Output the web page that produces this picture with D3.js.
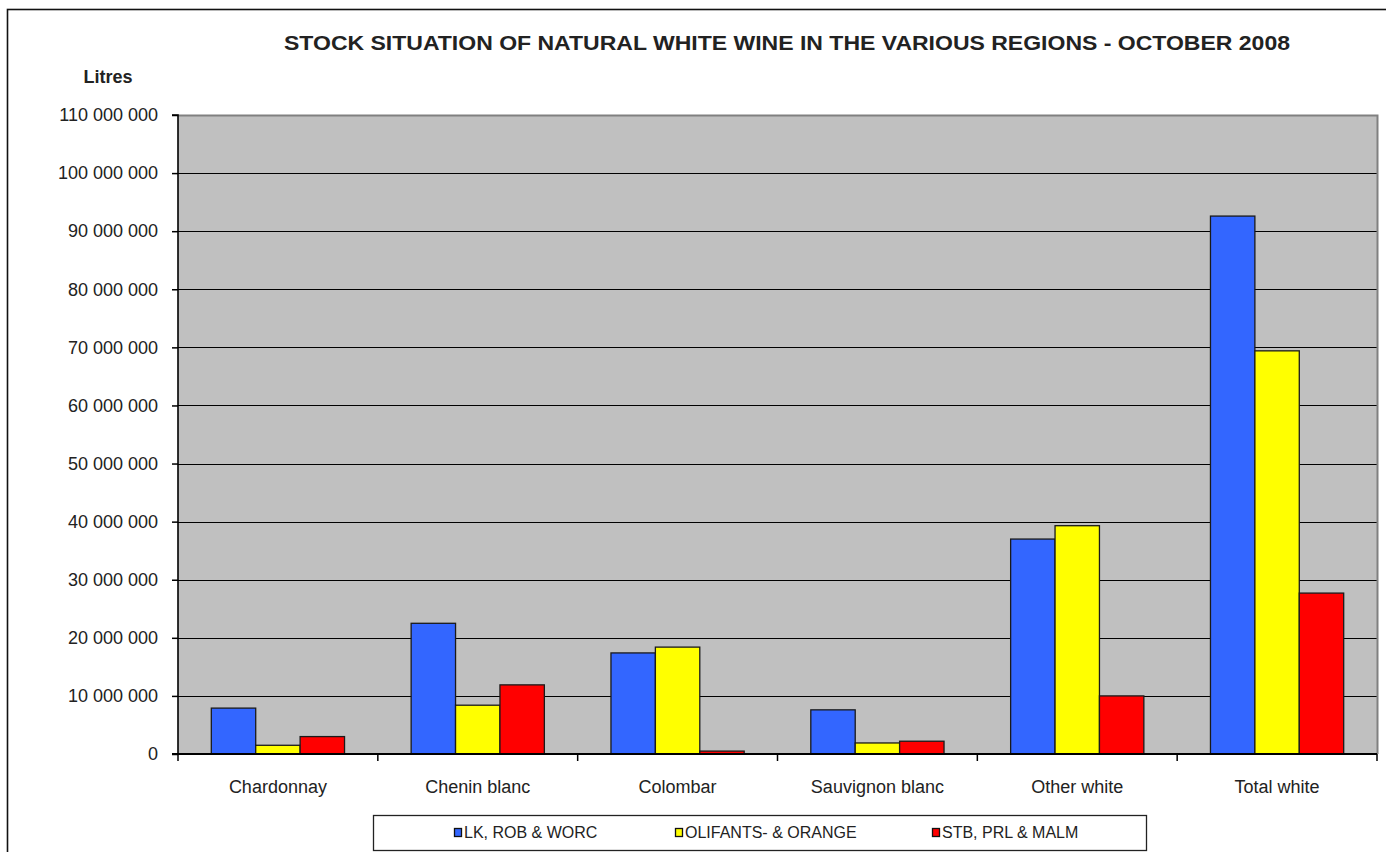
<!DOCTYPE html>
<html>
<head>
<meta charset="utf-8">
<script src="https://cdn.jsdelivr.net/npm/d3@7"></script>
<style>
  html, body { margin: 0; padding: 0; background: #fff; overflow: hidden; }
  text { font-family: Arial, "Liberation Sans", sans-serif; fill: #222; }
</style>
</head>
<body>
<svg id="chart" width="1386" height="852"></svg>
<script>
const categories = ["Chardonnay", "Chenin blanc", "Colombar", "Sauvignon blanc", "Other white", "Total white"];
const seriesNames = ["LK, ROB & WORC", "OLIFANTS- & ORANGE", "STB, PRL & MALM"];
const seriesColors = ["#3366FF", "#FFFF00", "#FF0000"];
const lkRobWorc   = [7900000, 22500000, 17400000, 7600000, 37000000, 92600000];
const olifants    = [1500000, 8400000, 18400000, 1900000, 39300000, 69400000];
const stbPrlMalm  = [3000000, 11900000, 500000, 2200000, 10000000, 27700000];
const yTicks = [0, 10000000, 20000000, 30000000, 40000000, 50000000, 60000000, 70000000, 80000000, 90000000, 100000000, 110000000];
const titleText = "STOCK SITUATION OF NATURAL WHITE WINE IN THE VARIOUS REGIONS - OCTOBER 2008";
const yAxisTitle = "Litres";

const seriesValues = [lkRobWorc, olifants, stbPrlMalm];
const svg = d3.select("#chart");

// outer chart border
svg.append("rect").attr("x", 7.5).attr("y", 9.5).attr("width", 1420).attr("height", 900)
  .attr("fill", "none").attr("stroke", "#111").attr("stroke-width", 1.6);

const plot = { left: 178, right: 1377, top: 115, bottom: 754 };

const y = d3.scaleLinear().domain([0, 110000000]).range([plot.bottom, plot.top]);
const x0 = d3.scaleBand().domain(categories).range([plot.left, plot.right]).paddingInner(0).paddingOuter(0);
const x1 = d3.scaleBand().domain(seriesNames).range([0, x0.bandwidth()]).paddingInner(0).paddingOuter(0.75);

// plot background
svg.append("rect").attr("x", plot.left).attr("y", plot.top)
  .attr("width", plot.right - plot.left).attr("height", plot.bottom - plot.top)
  .attr("fill", "#C0C0C0");

// gridlines
svg.append("g").selectAll("line").data(yTicks.filter(t => t > 0 && t < 110000000)).join("line")
  .attr("x1", plot.left).attr("x2", plot.right)
  .attr("y1", d => Math.round(y(d)) + 0.5).attr("y2", d => Math.round(y(d)) + 0.5)
  .attr("stroke", "#000").attr("stroke-width", 1.2);

// plot border top/right gray
svg.append("path")
  .attr("d", `M${plot.left},${plot.top + 0.5} H${plot.right + 0.5} V${plot.bottom}`)
  .attr("fill", "none").attr("stroke", "#808080").attr("stroke-width", 2);

// bars
const data = [];
categories.forEach((c, i) => seriesNames.forEach((s, j) => data.push({ c, s, j, v: seriesValues[j][i] })));
svg.append("g").selectAll("rect").data(data).join("rect")
  .attr("x", d => x0(d.c) + x1(d.s))
  .attr("y", d => y(d.v))
  .attr("width", x1.bandwidth())
  .attr("height", d => plot.bottom - y(d.v))
  .attr("fill", d => seriesColors[d.j])
  .attr("stroke", "#1a1a1a").attr("stroke-width", 1.3);

// y axis
const yAxis = d3.axisLeft(y).tickValues(yTicks).tickSize(6).tickPadding(14)
  .tickFormat(d => d3.format(",")(d).replace(/,/g, " "));
const yg = svg.append("g").attr("transform", `translate(${plot.left},0)`).call(yAxis);
yg.select(".domain").attr("stroke", "#000").attr("stroke-width", 1.6).attr("d", `M-6,${plot.top}H0V${plot.bottom}`);
yg.selectAll(".tick line").attr("stroke", "#000").attr("stroke-width", 1.5);
yg.selectAll(".tick text").attr("font-size", "18px").attr("font-family", "Arial, 'Liberation Sans', sans-serif").attr("fill", "#222");

// x axis
const xg = svg.append("g").attr("transform", `translate(0,${plot.bottom})`);
xg.append("line").attr("x1", plot.left - 6).attr("x2", plot.right).attr("y1", 0).attr("y2", 0)
  .attr("stroke", "#000").attr("stroke-width", 1.8);
const boundaries = categories.map(c => x0(c)).concat([plot.right]);
xg.selectAll("line.tk").data(boundaries).join("line").attr("class", "tk")
  .attr("x1", d => d).attr("x2", d => d).attr("y1", 0).attr("y2", 7)
  .attr("stroke", "#000").attr("stroke-width", 1.5);
xg.selectAll("text").data(categories).join("text")
  .attr("x", d => x0(d) + x0.bandwidth() / 2).attr("y", 39)
  .attr("text-anchor", "middle").attr("font-size", "18px").text(d => d);

// title
svg.append("text").attr("x", 787).attr("y", 50).attr("text-anchor", "middle")
  .attr("font-size", "21px").attr("font-weight", "bold")
  .attr("textLength", 1006).attr("lengthAdjust", "spacingAndGlyphs").text(titleText);
svg.append("text").attr("x", 108).attr("y", 83).attr("text-anchor", "middle")
  .attr("font-size", "18px").attr("font-weight", "bold").text(yAxisTitle);

// legend
const lg = svg.append("g");
lg.append("rect").attr("x", 373.5).attr("y", 815.5).attr("width", 773).attr("height", 35)
  .attr("fill", "#fff").attr("stroke", "#222").attr("stroke-width", 1.3);
const legendX = [454, 675, 932];
seriesNames.forEach((s, j) => {
  lg.append("rect").attr("x", legendX[j] + 0.5).attr("y", 828.5).attr("width", 7).attr("height", 8)
    .attr("fill", seriesColors[j]).attr("stroke", "#111").attr("stroke-width", 1.3);
  lg.append("text").attr("x", legendX[j] + 10).attr("y", 838).attr("font-size", "16px").text(s);
});
</script>
</body>
</html>
